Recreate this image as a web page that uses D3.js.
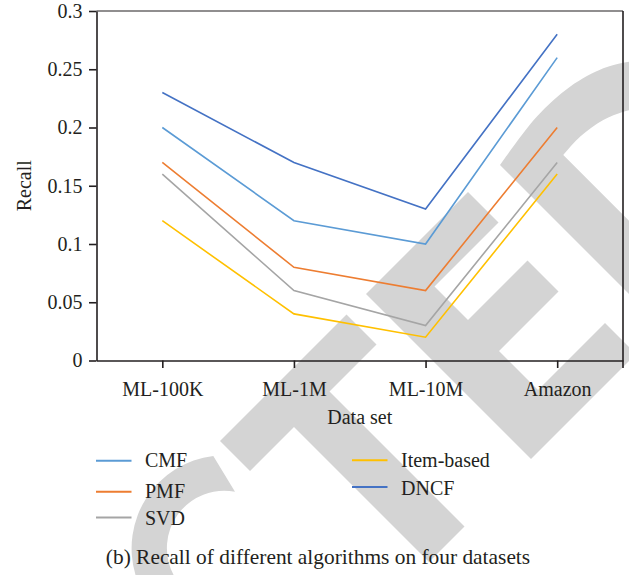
<!DOCTYPE html>
<html><head><meta charset="utf-8">
<script src="https://cdn.jsdelivr.net/npm/d3@7"></script>
<style>
body{margin:0;background:#fff;}
svg{display:block;}
text{font-family:"Liberation Serif","Times New Roman",serif;fill:#231f20;}
</style></head><body>
<svg id="chart" width="629" height="575"></svg>
<script>
// ---- data ----
const categories = ["ML-100K", "ML-1M", "ML-10M", "Amazon"];
const seriesNames = ["CMF", "PMF", "SVD", "Item-based", "DNCF"];
const cmf = [0.20, 0.12, 0.10, 0.26];
const pmf = [0.17, 0.08, 0.06, 0.20];
const svd = [0.16, 0.06, 0.03, 0.17];
const itemBased = [0.12, 0.04, 0.02, 0.16];
const dncf = [0.23, 0.17, 0.13, 0.28];
const seriesValues = [cmf, pmf, svd, itemBased, dncf];
const seriesColors = ["#5B9BD5", "#ED7D31", "#A5A5A5", "#FFC000", "#4472C4"];
const yTicks = [0, 0.05, 0.1, 0.15, 0.2, 0.25, 0.3];
const yTickLabels = ["0", "0.05", "0.1", "0.15", "0.2", "0.25", "0.3"];
const yTitle = "Recall";
const xTitle = "Data set";
const caption = "(b) Recall of different algorithms on four datasets";

// ---- layout ----
const mLeft = 96.5, mRight = 623, mTop = 11, mBottom = 360.5;
const ink = "#231f20";
const fontSize = 20;
const serif = '"Liberation Serif","Times New Roman",serif';

const svg = d3.select("#chart");

// ---- background watermark (decoration) ----
const wm = svg.append("g").attr("fill", "#d4d4d4");
const toPx = ([q, p]) => [(p + q) / 2, (p - q) / 2];
const polyPath = pts => "M" + pts.map(toPx).map(d => d.join(",")).join("L") + "Z";
wm.append("path").attr("d", polyPath([
  [-221, 661], [32, 661], [32, 721], [-62, 721], [-62, 991], [-133, 991], [-133, 721], [-221, 721]
]));
wm.append("path").attr("d", polyPath([
  [72, 660], [276, 660], [276, 721], [148, 721], [148, 788], [267, 788], [267, 850],
  [148, 850], [148, 928], [282, 928], [282, 990], [72, 990]
]));
wm.append("path").attr("d",
  "M213.3,456 A93,93 0 0 0 135.5,575 L173.6,575 A57.4,57.4 0 0 1 235,491.7 Z");
const curve = d3.line().curve(d3.curveCatmullRom.alpha(0.5));
const outerD = [[500,165],[536.7,116.7],[570,86.7],[603.3,68.3],[623.3,62.7],[640,60]];
const innerD = [[640,108],[623.3,111.7],[603.3,120],[580,136.7],[563.3,155]];
wm.append("path").attr("d",
  curve(outerD) + "L" + curve(innerD).slice(1) + "L640,231.7L640,305Z");

// ---- scales ----
const x = d3.scalePoint().domain(categories).range([mLeft, mRight]).padding(0.5);
const y = d3.scaleLinear().domain([0, 0.3]).range([mBottom, mTop]);

// ---- axes ----
const yAxis = d3.axisLeft(y).tickValues(yTicks)
  .tickFormat((d, i) => yTickLabels[i]).tickSize(7.5).tickSizeOuter(0).tickPadding(6.5);
const gy = svg.append("g").attr("transform", `translate(${mLeft},0)`).call(yAxis);

const xAxis = d3.axisBottom(x).tickSize(7.5).tickSizeOuter(0);
const gx = svg.append("g").attr("transform", `translate(0,${mBottom})`).call(xAxis);
gx.selectAll(".tick text").attr("y", 35.5).attr("dy", 0);

[gx, gy].forEach(g => {
  g.attr("font-family", serif).attr("font-size", fontSize);
  g.select(".domain").attr("stroke", ink).attr("stroke-width", 1.6);
  g.selectAll(".tick line").attr("stroke", ink).attr("stroke-width", 1.6);
  g.selectAll(".tick text").attr("fill", ink)
    .style("font-family", serif)
    .style("font-size", fontSize + "px");
});

svg.append("line").attr("x1", mLeft).attr("x2", mRight).attr("y1", mTop).attr("y2", mTop)
  .attr("stroke", ink).attr("stroke-width", 1.2);
svg.append("line").attr("x1", mRight).attr("x2", mRight).attr("y1", mTop).attr("y2", mBottom + 7.5)
  .attr("stroke", ink).attr("stroke-width", 1.6);

// ---- series lines ----
const line = d3.line().x((d, i) => x(categories[i])).y(d => y(d));
seriesValues.forEach((vals, s) => {
  svg.append("path").attr("d", line(vals)).attr("fill", "none")
    .attr("stroke", seriesColors[s]).attr("stroke-width", 1.6);
});

// ---- titles ----
svg.append("text").attr("transform", `translate(31,${(mTop + mBottom) / 2}) rotate(-90)`)
  .attr("text-anchor", "middle").style("font-size", fontSize + "px").text(yTitle);
svg.append("text").attr("x", (mLeft + mRight) / 2).attr("y", 424)
  .attr("text-anchor", "middle").style("font-size", fontSize + "px").text(xTitle);

// ---- legend ----
const legendPos = [
  {lx: 96, ly: 460.7, ty: 466.5},
  {lx: 96, ly: 491.7, ty: 497.5},
  {lx: 96, ly: 517.5, ty: 525},
  {lx: 352, ly: 460.3, ty: 466.5},
  {lx: 352, ly: 487, ty: 495}
];
seriesNames.forEach((name, s) => {
  const p = legendPos[s];
  svg.append("line").attr("x1", p.lx).attr("x2", p.lx + 35.5)
    .attr("y1", p.ly).attr("y2", p.ly)
    .attr("stroke", seriesColors[s]).attr("stroke-width", 2);
  svg.append("text").attr("x", p.lx + 49).attr("y", p.ty)
    .style("font-size", fontSize + "px").text(name);
});

// ---- caption ----
svg.append("text").attr("x", 318).attr("y", 564).attr("text-anchor", "middle")
  .style("font-size", "21.4px").text(caption);
</script>
</body></html>
